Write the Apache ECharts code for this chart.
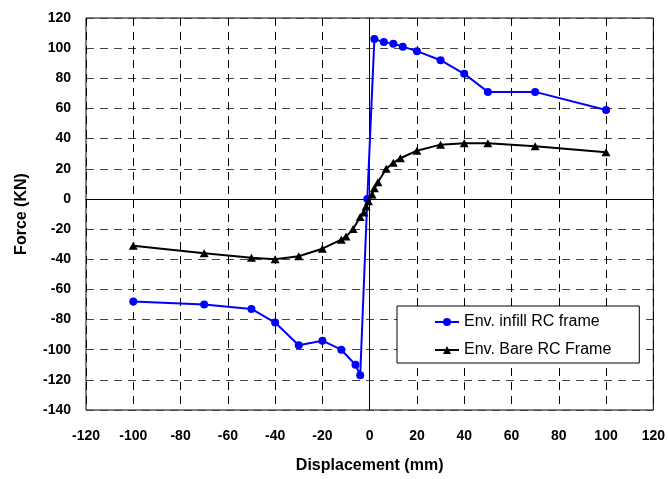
<!DOCTYPE html>
<html>
<head>
<meta charset="utf-8">
<script src="https://cdn.jsdelivr.net/npm/echarts@6/dist/echarts.min.js"></script>
<style>
  html, body { margin: 0; padding: 0; background: #fff; }
  #chart { width: 668px; height: 479px; }
</style>
</head>
<body>
<div id="chart"></div>
<script>
// Envelope curves: displacement (mm) vs force (KN)
const infillDisp  = [-100, -70, -50, -40, -30, -20, -12, -6, -4, -1, 2, 6, 10, 14, 20, 30, 40, 50, 70, 100];
const infillForce = [-68, -70, -73, -82, -97, -94, -100, -110, -117, 0, 106, 104, 103, 101, 98, 92, 83, 71, 71, 59];

const bareDisp  = [-100, -70, -50, -40, -30, -20, -12, -10, -7, -4, -2.5, -1.5, -0.5, 1, 2, 3.5, 7, 10, 13, 20, 30, 40, 50, 70, 100];
const bareForce = [-31, -36, -39, -40, -38, -33, -27, -25, -20, -12, -9, -5, -1.5, 3, 7, 11, 20, 24, 27, 32, 36, 37, 37, 35, 31];

const xTicks = { min: -120, max: 120, step: 20 };
const yTicks = { min: -140, max: 120, step: 20 };

const seriesNames = ['Env. infill RC frame', 'Env. Bare RC Frame'];

const pairs = (xs, ys) => xs.map((x, i) => [x, ys[i]]);

const font = 'Arial, "Liberation Sans", sans-serif';
const tickLabel = { color: '#000', fontFamily: font, fontWeight: 'bold', fontSize: 14 };
const titleText = { color: '#000', fontFamily: font, fontWeight: 'bold', fontSize: 16 };

const chart = echarts.init(document.getElementById('chart'), null, { renderer: 'canvas' });

chart.setOption({
  animation: false,
  backgroundColor: '#fff',
  grid: {
    left: 86, right: 14, top: 18, bottom: 68,
    show: true, borderColor: '#000', borderWidth: 1, backgroundColor: '#fff'
  },
  legend: {
    data: seriesNames,
    orient: 'vertical',
    left: 397, top: 306,
    backgroundColor: '#fff',
    borderColor: '#000', borderWidth: 1, borderRadius: 0,
    padding: [8, 28, 5, 37],
    itemGap: 12,
    itemWidth: 24, itemHeight: 10,
    textStyle: { color: '#000', fontFamily: font, fontSize: 16 }
  },
  xAxis: [
    {
      type: 'value',
      min: xTicks.min, max: xTicks.max, interval: xTicks.step,
      name: 'Displacement (mm)', nameLocation: 'middle', nameGap: 48,
      nameTextStyle: titleText,
      axisLine: { show: false, onZero: false },
      axisTick: { show: false },
      axisLabel: Object.assign({ margin: 19 }, tickLabel),
      splitLine: { show: true, lineStyle: { color: '#000', type: [8, 6], width: 1 } }
    },
    {
      // horizontal zero line crossing the plot
      type: 'value',
      min: xTicks.min, max: xTicks.max, interval: xTicks.step,
      position: 'bottom',
      axisLine: { show: true, onZero: true, lineStyle: { color: '#000', width: 1 } },
      axisTick: { show: false },
      axisLabel: { show: false },
      splitLine: { show: false }
    }
  ],
  yAxis: [
    {
      type: 'value',
      min: yTicks.min, max: yTicks.max, interval: yTicks.step,
      name: 'Force (KN)', nameLocation: 'middle', nameGap: 56, nameRotate: 90,
      nameTextStyle: titleText,
      axisLine: { show: false, onZero: false },
      axisTick: { show: false },
      axisLabel: Object.assign({ margin: 15 }, tickLabel),
      splitLine: { show: true, lineStyle: { color: '#444', type: [8, 6], width: 1 } }
    },
    {
      // vertical zero line crossing the plot
      type: 'value',
      min: yTicks.min, max: yTicks.max, interval: yTicks.step,
      position: 'left',
      axisLine: { show: true, onZero: true, lineStyle: { color: '#000', width: 1 } },
      axisTick: { show: false },
      axisLabel: { show: false },
      splitLine: { show: false }
    }
  ],
  series: [
    {
      name: seriesNames[0],
      type: 'line',
      xAxisIndex: 0, yAxisIndex: 0,
      data: pairs(infillDisp, infillForce),
      symbol: 'circle', symbolSize: 8,
      itemStyle: { color: '#0000ff' },
      lineStyle: { color: '#0000ff', width: 2 },
      z: 3
    },
    {
      name: seriesNames[1],
      type: 'line',
      xAxisIndex: 0, yAxisIndex: 0,
      data: pairs(bareDisp, bareForce),
      symbol: 'triangle', symbolSize: [9, 8],
      itemStyle: { color: '#000' },
      lineStyle: { color: '#000', width: 2 },
      z: 4
    }
  ]
});
</script>
</body>
</html>
